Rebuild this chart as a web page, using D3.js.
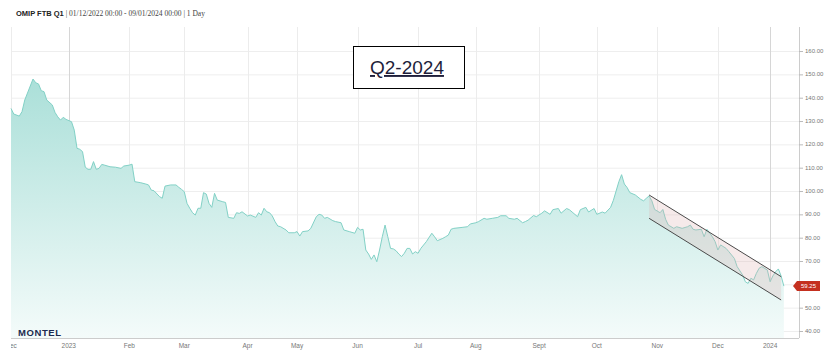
<!DOCTYPE html>
<html><head><meta charset="utf-8">
<script src="https://cdn.jsdelivr.net/npm/d3@7"></script>
<style>body{margin:0;background:#fff}svg{display:block}</style>
</head><body><svg id="c" width="825" height="361"></svg>
<script>
// ---- data ----
const dates = [
"2022-12-01","2022-12-02","2022-12-06","2022-12-07","2022-12-08","2022-12-13","2022-12-14","2022-12-15","2022-12-16","2022-12-19",
"2022-12-20","2022-12-22","2022-12-23","2022-12-27","2022-12-28","2022-12-29","2022-12-30","2023-01-03","2023-01-04","2023-01-05",
"2023-01-06","2023-01-09","2023-01-10","2023-01-11","2023-01-12","2023-01-13","2023-01-16","2023-01-17","2023-01-18","2023-01-19",
"2023-01-23","2023-01-25","2023-01-27","2023-01-30","2023-02-01","2023-02-02","2023-02-03","2023-02-07","2023-02-09","2023-02-10",
"2023-02-13","2023-02-14","2023-02-16","2023-02-17","2023-02-20","2023-02-22","2023-02-24","2023-02-27","2023-02-28","2023-03-01",
"2023-03-02","2023-03-03","2023-03-06","2023-03-07","2023-03-08","2023-03-09","2023-03-10","2023-03-13","2023-03-14","2023-03-15",
"2023-03-16","2023-03-17","2023-03-21","2023-03-22","2023-03-23","2023-03-27","2023-03-28","2023-03-29","2023-03-30","2023-04-03",
"2023-04-04","2023-04-06","2023-04-11","2023-04-12","2023-04-13","2023-04-14","2023-04-17","2023-04-18","2023-04-19","2023-04-20",
"2023-04-21","2023-04-25","2023-04-26","2023-04-28","2023-05-02","2023-05-03","2023-05-04","2023-05-08","2023-05-09","2023-05-11",
"2023-05-12","2023-05-15","2023-05-16","2023-05-17","2023-05-19","2023-05-22","2023-05-24","2023-05-25","2023-05-29","2023-05-31",
"2023-06-01","2023-06-02","2023-06-05","2023-06-06","2023-06-07","2023-06-08","2023-06-09","2023-06-12","2023-06-13","2023-06-14",
"2023-06-15","2023-06-16","2023-06-19","2023-06-20","2023-06-21","2023-06-22","2023-06-23","2023-06-26","2023-06-27","2023-06-28",
"2023-06-29","2023-06-30","2023-07-03","2023-07-04","2023-07-06","2023-07-10","2023-07-11","2023-07-12","2023-07-14","2023-07-17",
"2023-07-18","2023-07-19","2023-07-20","2023-07-25","2023-07-27","2023-07-28","2023-08-01","2023-08-02","2023-08-04","2023-08-07",
"2023-08-09","2023-08-11","2023-08-14","2023-08-16","2023-08-17","2023-08-21","2023-08-22","2023-08-24","2023-08-25","2023-08-28",
"2023-08-30","2023-08-31","2023-09-04","2023-09-05","2023-09-07","2023-09-08","2023-09-12","2023-09-13","2023-09-15","2023-09-18",
"2023-09-19","2023-09-21","2023-09-22","2023-09-26","2023-09-27","2023-09-29","2023-10-02","2023-10-04","2023-10-05","2023-10-09",
"2023-10-10","2023-10-11","2023-10-12","2023-10-13","2023-10-16","2023-10-17","2023-10-18","2023-10-20","2023-10-24","2023-10-25",
"2023-10-26","2023-10-27","2023-10-30","2023-10-31","2023-11-02","2023-11-03","2023-11-06","2023-11-07","2023-11-09","2023-11-10",
"2023-11-14","2023-11-16","2023-11-17","2023-11-20","2023-11-21","2023-11-23","2023-11-24","2023-11-27","2023-11-29","2023-11-30",
"2023-12-01","2023-12-04","2023-12-06","2023-12-07","2023-12-11","2023-12-12","2023-12-14","2023-12-15","2023-12-18","2023-12-19",
"2023-12-20","2023-12-21","2023-12-22","2023-12-27","2023-12-29","2024-01-02","2024-01-03","2024-01-04","2024-01-05","2024-01-08",
"2024-01-09"];
const values = [
135.4,133,132.1,134,139,148,146.4,145.9,143,142.6,
139,136.9,133.7,131.8,130.4,131.6,130.7,129.7,126.1,118.3,
117.9,116.9,110.2,109.3,109.3,112.6,109.3,109.7,111.4,111.1,
110.4,110.2,109.7,110.7,111.1,111.5,104,103.6,103,102.6,
100.4,100.1,97.6,96.9,102.1,102.6,102.6,101.6,100.7,99.7,
94.7,92.6,90.7,89.7,92.6,92.6,99.3,98.7,94.7,93,
99,96.1,95.4,95.1,88.7,88.3,90.7,90.4,91.1,89.3,
89.7,88.7,90.7,89.7,92.6,91.1,90.7,89.3,86.9,85,
84.7,83.3,82.1,82.1,82.6,80.7,82.6,82.9,84,89,
90,89.7,88.3,88.7,87.3,86.9,86.4,83.3,82.6,81.9,
84.4,83.3,83.6,74.7,73,70.7,72.6,69.7,74.7,80.4,
85.4,80.4,75.4,75.2,74.4,73,71.9,73.3,75.4,75.4,
73,74,73.3,75.4,78.3,81.9,80.4,78.7,79.7,80.4,
81.1,83.6,84,84.4,84.7,85.9,86.4,86.9,88.3,87.9,
88.3,88.7,89.4,89.4,88.3,87.9,88.3,86.4,86.9,87.5,
89.5,89,90.5,91.5,90,92,92.5,90.5,92.5,92,
91,89,92,93,91,92.5,90,91,90.5,93,
96,100,104,107,103,101.5,99.3,98.3,96.4,95.8,
96.9,97.9,95.8,92.1,90.7,92.1,87.9,85.4,84,84.7,
84,84.7,85.4,83.6,83.3,83.6,80.4,83.6,80.4,78.3,
74.7,76.9,75.4,74,71.1,67.6,64,61.1,60.4,62.6,
61.9,64.7,66.9,67.6,66.1,61.1,63.6,65.4,66.6,63.6,
59.25];
const holidays = ["2022-12-26","2023-04-07","2023-04-10","2023-05-01","2023-12-25","2023-12-26","2024-01-01"];
const tickLabels = ["Dec","2023","Feb","Mar","Apr","May","Jun","Jul","Aug","Sept","Oct","Nov","Dec","2024"];
const yTicks = [40,50,60,70,80,90,100,110,120,130,140,150,160];
const channelDates = ["2023-10-27","2024-01-08"];
const channelUpper = [98.3, 63.3];
const channelLower = [88.3, 53.3];
const lastValue = 59.25;
const titleBold = "OMIP FTB Q1";
const titleRest = " | 01/12/2022 00:00 - 09/01/2024 00:00 | 1 Day";
const boxLabel = "Q2-2024";
const logoText = "MONTEL";

// ---- setup ----
const svg = d3.select("#c");
const W = 825, H = 361;
const m = {left: 11, right: 26, top: 27, bottom: 23};
const fmt = d3.timeFormat("%Y-%m-%d");
const hol = new Set(holidays);
const trading = d3.timeDay.range(new Date(2022, 11, 1), new Date(2024, 0, 10))
  .filter(d => d.getDay() !== 0 && d.getDay() !== 6 && !hol.has(fmt(d)));
const idx = new Map(trading.map((d, i) => [fmt(d), i]));
const data = dates.map((d, i) => ({i: idx.get(d), v: values[i]}));

const x = d3.scaleLinear().domain([0, trading.length - 1 + 5.5]).range([m.left, W - m.right]);
const y = d3.scaleLinear().domain([37, 170.3]).range([H - m.bottom, m.top]);

const ticks = [];
trading.forEach((d, i) => { if (i === 0 || d.getMonth() !== trading[i - 1].getMonth()) ticks.push(i); });

const defs = svg.append("defs");
const grad = defs.append("linearGradient").attr("id", "g").attr("gradientUnits", "userSpaceOnUse")
  .attr("x1", 0).attr("x2", 0).attr("y1", y.range()[1]).attr("y2", y.range()[0]);
grad.append("stop").attr("offset", 0).attr("stop-color", "#9cdad2");
grad.append("stop").attr("offset", 1).attr("stop-color", "#f4fbfa");
defs.append("clipPath").attr("id", "xc").append("rect")
  .attr("x", m.left).attr("y", 0).attr("width", W).attr("height", H);

// gridlines
svg.append("g").selectAll("line").data(yTicks).join("line")
  .attr("x1", m.left).attr("x2", W - m.right).attr("y1", d => y(d) + 0.5).attr("y2", d => y(d) + 0.5)
  .attr("stroke", "#eeeeee");
svg.append("g").selectAll("line").data(ticks).join("line")
  .attr("x1", d => Math.round(x(d)) + 0.5).attr("x2", d => Math.round(x(d)) + 0.5)
  .attr("y1", m.top).attr("y2", H - m.bottom)
  .attr("stroke", (d, k) => (tickLabels[k] === "2023" || tickLabels[k] === "2024") ? "#d6d6d6" : "#ececec");

// area + line
svg.append("path").datum(data)
  .attr("d", d3.area().x(d => x(d.i)).y0(y.range()[0]).y1(d => y(d.v)))
  .attr("fill", "url(#g)");
svg.append("path").datum(data)
  .attr("d", d3.line().x(d => x(d.i)).y(d => y(d.v)))
  .attr("fill", "none").attr("stroke", "#82d1c6").attr("stroke-width", 1);

// channel
const c0 = idx.get(channelDates[0]), c1 = idx.get(channelDates[1]);
svg.append("path")
  .attr("d", d3.line()([[x(c0), y(channelUpper[0])], [x(c1), y(channelUpper[1])], [x(c1), y(channelLower[1])], [x(c0), y(channelLower[0])]]) + "Z")
  .attr("fill", "rgba(222,180,180,0.28)");
[channelUpper, channelLower].forEach(ch => {
  svg.append("line").attr("x1", x(c0)).attr("y1", y(ch[0])).attr("x2", x(c1)).attr("y2", y(ch[1]))
    .attr("stroke", "#4a4a4a").attr("stroke-width", 1);
});

// axes lines
svg.append("line").attr("x1", m.left).attr("x2", W - m.right).attr("y1", H - m.bottom + 0.5).attr("y2", H - m.bottom + 0.5).attr("stroke", "#cccccc");
svg.append("line").attr("x1", W - m.right + 0.5).attr("x2", W - m.right + 0.5).attr("y1", m.top).attr("y2", H - m.bottom).attr("stroke", "#cccccc");

// y axis labels (the label hidden behind the last-value flag is skipped)
const ly = y(lastValue), lx = W - m.right - 6;
const yg = svg.append("g");
yg.selectAll("line").data(yTicks).join("line")
  .attr("x1", W - m.right).attr("x2", W - m.right + 4).attr("y1", d => y(d) + 0.5).attr("y2", d => y(d) + 0.5).attr("stroke", "#bbbbbb");
yg.selectAll("text").data(yTicks.filter(d => Math.abs(y(d) - ly) > 8)).join("text")
  .attr("x", W - m.right + 6).attr("y", d => y(d)).attr("dy", "0.35em")
  .attr("font-family", "Liberation Sans, Arial, sans-serif").attr("font-size", 6).attr("fill", "#777")
  .text(d => d.toFixed(2));

// x axis labels
svg.append("g").attr("clip-path", "url(#xc)").selectAll("text").data(ticks).join("text")
  .attr("x", d => x(d)).attr("y", H - m.bottom + 9.5).attr("text-anchor", "middle")
  .attr("font-family", "Liberation Sans, Arial, sans-serif").attr("font-size", 6.5).attr("fill", "#777")
  .text((d, k) => tickLabels[k]);

// last value flag
svg.append("path").attr("d", `M${lx},${ly}L${lx + 4},${ly - 5}L${lx + 27},${ly - 5}L${lx + 27},${ly + 5}L${lx + 4},${ly + 5}Z`)
  .attr("fill", "#c4301f");
svg.append("text").attr("x", lx + 15.5).attr("y", ly).attr("dy", "0.35em").attr("text-anchor", "middle")
  .attr("font-family", "Liberation Sans, Arial, sans-serif").attr("font-size", 6).attr("fill", "#fff")
  .text(lastValue.toFixed(2));

// title
const t = svg.append("text").attr("x", 16).attr("y", 16).attr("font-size", 7.5);
t.append("tspan").attr("font-family", "Liberation Sans, Arial, sans-serif").attr("font-weight", "bold").attr("fill", "#222").text(titleBold);
t.append("tspan").attr("font-family", "Liberation Serif, Times New Roman, serif").attr("fill", "#444").text(titleRest);

// annotation box
svg.append("rect").attr("x", 353.5).attr("y", 46.5).attr("width", 111).attr("height", 42)
  .attr("fill", "#fff").attr("stroke", "#000").attr("stroke-width", 1);
svg.append("text").attr("x", 407).attr("y", 74).attr("text-anchor", "middle")
  .attr("font-family", "Liberation Sans, Arial, sans-serif").attr("font-size", 19).attr("fill", "#1e1e3a")
  .attr("text-decoration", "underline").text(boxLabel);

// logo
svg.append("text").attr("x", 18).attr("y", 336).attr("font-family", "Liberation Sans, Arial, sans-serif")
  .attr("font-weight", "bold").attr("font-size", 9.5).attr("letter-spacing", 0.6).attr("fill", "#1d2b4f").text(logoText);
</script></body></html>
